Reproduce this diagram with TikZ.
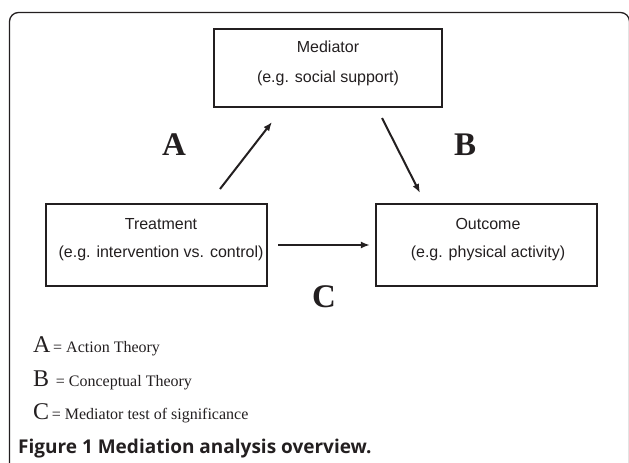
\documentclass[tikz,border=0pt]{standalone}
\usepackage{fontspec}
\setmainfont{Liberation Serif}
\setsansfont{Liberation Sans}
\newfontfamily\capfont{Open Sans}
\usetikzlibrary{arrows.meta}
\definecolor{ink}{HTML}{231F20}
\tikzset{
  framestyle/.style={draw=ink, line width=1.3pt, rounded corners=9pt},
  box/.style={draw=ink, line width=2.2pt, inner sep=0pt},
  boxtext/.style={font=\sffamily\fontsize{16}{#1}\selectfont, align=center, inner sep=0pt, text=ink},
  conn/.style={draw=ink, line width=2pt, -{Latex[length=9pt,width=7pt]}},
  bigletter/.style={font=\bfseries\fontsize{33}{33}\selectfont, text=ink, inner sep=0pt},
  legend/.style={anchor=base west, inner sep=0pt, text=ink, font=\fontsize{16}{16}\selectfont},
  captionstyle/.style={anchor=base west, inner sep=0pt, text=ink, font=\capfont\bfseries\fontsize{19}{19}\selectfont}
}
\newcommand{\bigL}[1]{{\fontsize{24}{24}\selectfont #1}}
\begin{document}
\begin{tikzpicture}[x=1pt,y=-1pt]
\useasboundingbox (0,0) rectangle (629,463);
\clip (0,0) rectangle (629,463);
\draw[framestyle] (9.5,520) -- (9.5,12.5) -- (629.5,12.5) -- (629.5,520);

% boxes
\node[box, minimum width=228pt, minimum height=78pt] (med) at (328,68) {};
\node[boxtext=30] (medt) at (328,63) {Mediator\\(e.g. social support)};
\node[box, minimum width=221pt, minimum height=82pt] (treat) at (156.5,245) {};
\node[boxtext=28] (treatt) at (161,240) {Treatment\\(e.g. intervention vs. control)};
\node[box, minimum width=221pt, minimum height=82pt] (out) at (486.5,245) {};
\node[boxtext=28] (outt) at (488,240) {Outcome\\(e.g. physical activity)};

% connectors
\coordinate (a1) at (220,189);
\coordinate (a2) at (272,122);
\coordinate (b1) at (382,118);
\coordinate (b2) at (420,193);
\draw[conn] (a1) -- (a2);
\draw[conn] (b1) -- (b2);
\draw[conn, shorten <=10pt, shorten >=5pt] (treat.east) -- (out.west);

% path labels
\node[bigletter] (la) at (174,145) {A};
\node[bigletter] (lb) at (465,145) {B};
\node[bigletter] (lc) at (324,297) {C};

% legend
\node[legend] (lega) at (33,352) {\bigL{A}\,= Action Theory};
\node[legend] (legb) at (33,386) {\bigL{B}\, = Conceptual Theory};
\node[legend] (legc) at (33,419) {\bigL{C}\,= Mediator test of significance};

% caption
\node[captionstyle] (cap) at (18,453) {Figure 1 Mediation analysis overview.};
\end{tikzpicture}
\end{document}
